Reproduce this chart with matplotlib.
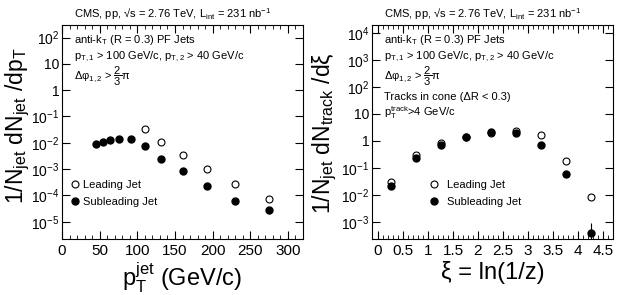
import numpy as np
import matplotlib.pyplot as plt

plt.rcParams["font.family"] = ["Liberation Sans", "DejaVu Sans"]
plt.rcParams["mathtext.fontset"] = "custom"
plt.rcParams["mathtext.rm"] = "Liberation Sans"
plt.rcParams["mathtext.it"] = "Liberation Sans"
plt.rcParams["mathtext.default"] = "regular"

# jet pT spectra
pt_lead = [110, 132, 160, 192, 230, 275]
y_lead = [3.3e-2, 1.1e-2, 3.5e-3, 1.0e-3, 2.8e-4, 7.0e-5]
pt_sub = [45, 54, 64, 76, 92, 110, 132, 160, 192, 230, 275]
y_sub = [9e-3, 1.1e-2, 1.3e-2, 1.4e-2, 1.4e-2, 7.5e-3, 2.5e-3, 8.5e-4, 2.3e-4, 6.0e-5, 2.8e-5]
yerr_sub = [0, 0, 0, 0, 0, 0, 0, 0, 0, 0, 8e-6]

# fragmentation functions
xi = [0.25, 0.75, 1.25, 1.75, 2.25, 2.75, 3.25, 3.75, 4.25]
ff_lead = [3.0e-2, 0.30, 0.85, 1.4, 2.0, 2.4, 1.7, 0.18, 8e-3]
ff_sub = [2.2e-2, 0.23, 0.70, 1.4, 2.1, 1.9, 0.70, 6e-2, 4e-4]
fferr_sub = [0, 0, 0, 0, 0, 0, 0, 0, 5e-4]

title = r"CMS, pp, √s = 2.76 TeV, L$_{int}$ = 231 nb$^{-1}$"

fig = plt.figure(figsize=(6.18, 2.95), dpi=100)
ax1 = fig.add_axes([62 / 618, 56 / 295, 241 / 618, 214 / 295])
ax2 = fig.add_axes([372 / 618, 56 / 295, 241 / 618, 214 / 295])


def draw(ax, x_lead, lead, x_sub, sub, sub_err):
    ax.plot(x_lead, lead, "o", mfc="white", mec="black", ms=5, mew=0.8,
            label="Leading Jet")
    ax.errorbar(x_sub, sub, yerr=sub_err, fmt="none", ecolor="black", elinewidth=0.8)
    ax.plot(x_sub, sub, "o", color="black", ms=5, label="Subleading Jet")


for ax in (ax1, ax2):
    ax.set_yscale("log")
    ax.tick_params(which="both", direction="in", top=True, right=True)
    ax.tick_params(axis="x", labelsize=11)
    ax.tick_params(axis="y", labelsize=10, pad=2)
    ax.tick_params(which="major", length=6)
    ax.tick_params(which="minor", length=3)
    ax.text(0.05, 1.012, title, transform=ax.transAxes, fontsize=8, va="bottom")

# left panel
draw(ax1, pt_lead, y_lead, pt_sub, y_sub, yerr_sub)
ax1.set_xlim(0, 320)
ax1.set_ylim(2.2e-6, 3e2)
ax1.set_xticks(np.arange(0, 301, 50))
ax1.set_xticks(np.arange(0, 321, 10), minor=True)
ax1.set_yticks([1e-5, 1e-4, 1e-3, 1e-2, 1e-1, 1, 10, 100])
ax1.set_yticklabels([r"10$^{-5}$", r"10$^{-4}$", r"10$^{-3}$", r"10$^{-2}$",
                     r"10$^{-1}$", "1", "10", r"10$^{2}$"])
ax1.set_xlabel(r"p$_{T}^{jet}$ (GeV/c)", fontsize=17, labelpad=2)
ax1.set_ylabel(r"1/N$_{jet}$ dN$_{jet}$ /dp$_{T}$", fontsize=16.5)
ax1.yaxis.set_label_coords(-0.125, 0.53)
ax1.text(0.05, 0.93, r"anti-k$_{T}$ (R = 0.3) PF Jets", transform=ax1.transAxes, fontsize=8, va="center")
ax1.text(0.05, 0.85, r"p$_{T,1}$ > 100 GeV/c, p$_{T,2}$ > 40 GeV/c", transform=ax1.transAxes, fontsize=8, va="center")
ax1.text(0.05, 0.76, r"Δφ$_{1,2}$ > $\dfrac{2}{3}$π", transform=ax1.transAxes, fontsize=8, va="center")
ax1.legend(loc="lower left", bbox_to_anchor=(0.0, 0.12), frameon=False, fontsize=8,
           handletextpad=0.1, borderaxespad=0.2, labelspacing=0.6, handlelength=1.2)

# right panel
draw(ax2, xi, ff_lead, xi, ff_sub, fferr_sub)
ax2.set_xlim(-0.12, 4.7)
ax2.set_ylim(2.3e-4, 2e4)
ax2.set_xticks(np.arange(0, 4.51, 0.5))
ax2.set_xticklabels(["0", "0.5", "1", "1.5", "2", "2.5", "3", "3.5", "4", "4.5"])
ax2.set_xticks(np.arange(0, 4.71, 0.1), minor=True)
ax2.set_yticks([1e-3, 1e-2, 1e-1, 1, 10, 1e2, 1e3, 1e4])
ax2.set_yticklabels([r"10$^{-3}$", r"10$^{-2}$", r"10$^{-1}$", "1", "10",
                     r"10$^{2}$", r"10$^{3}$", r"10$^{4}$"])
ax2.set_xlabel("ξ = ln(1/z)", fontsize=17, labelpad=2)
ax2.set_ylabel(r"1/N$_{jet}$ dN$_{track}$ /dξ", fontsize=16.5)
ax2.yaxis.set_label_coords(-0.135, 0.495)
ax2.text(0.05, 0.93, r"anti-k$_{T}$ (R = 0.3) PF Jets", transform=ax2.transAxes, fontsize=8, va="center")
ax2.text(0.05, 0.85, r"p$_{T,1}$ > 100 GeV/c, p$_{T,2}$ > 40 GeV/c", transform=ax2.transAxes, fontsize=8, va="center")
ax2.text(0.05, 0.76, r"Δφ$_{1,2}$ > $\dfrac{2}{3}$π", transform=ax2.transAxes, fontsize=8, va="center")
ax2.text(0.05, 0.665, "Tracks in cone (ΔR < 0.3)", transform=ax2.transAxes, fontsize=8, va="center")
ax2.text(0.05, 0.59, r"p$_{T}^{track}$>4 GeV/c", transform=ax2.transAxes, fontsize=8, va="center")
ax2.legend(loc="lower left", bbox_to_anchor=(0.2, 0.12), frameon=False, fontsize=8,
           handletextpad=0.6, borderaxespad=0.2, labelspacing=0.6, handlelength=1.2)

fig.savefig("out.png", dpi=100)
